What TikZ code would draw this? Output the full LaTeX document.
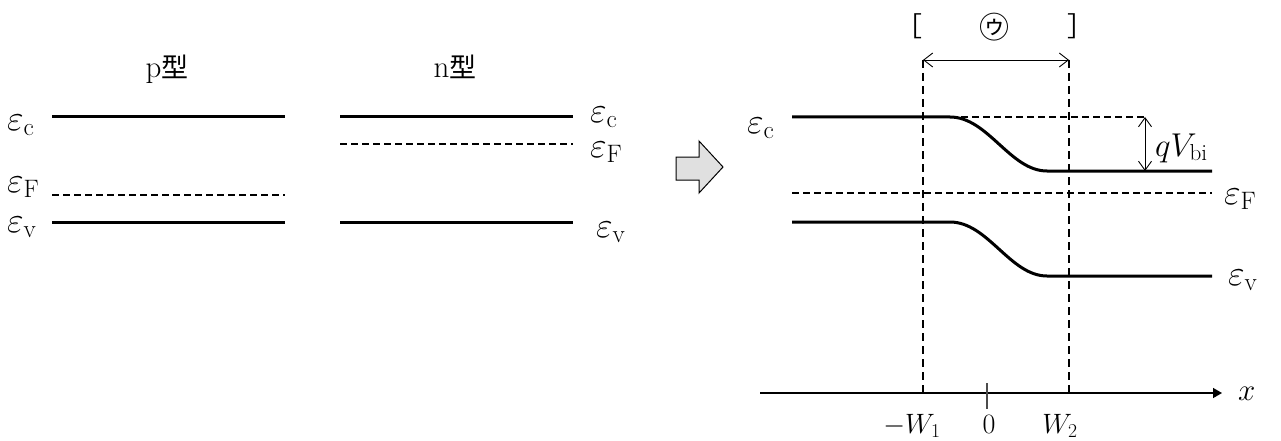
\RequirePackage{fix-cm}
\documentclass[tikz,border=0pt]{standalone}
\usepackage{fontspec}
\usetikzlibrary{arrows.meta}
\newfontfamily\cjk{Noto Sans CJK JP}
\begin{document}
\begin{tikzpicture}[x=1pt,y=-1pt,
  band/.style={line width=3pt},
  fermi/.style={line width=2.3pt,dash pattern=on 7pt off 4pt},
  guide/.style={line width=1.4pt,dash pattern=on 8pt off 5pt},
  lbl/.style={inner sep=0pt,anchor=base west,font=\fontsize{36}{40}\selectfont},
  title/.style={inner sep=0pt,anchor=base,font=\fontsize{27}{32}\selectfont},
  head/.style={inner sep=0pt,anchor=base,font=\fontsize{31}{36}\selectfont},
  barb/.style={line width=0.9pt,{Straight Barb[length=9pt,width=14pt]}-{Straight Barb[length=9pt,width=14pt]}}
]
\useasboundingbox (0,0) rectangle (1281,441);
% ---- p-type
\node[head] (ptitle) at (167,78) {p{\cjk\fontsize{27}{32}\selectfont 型}};
\coordinate (pc1) at (52,117); \coordinate (pc2) at (285,117);
\coordinate (pf1) at (52,195); \coordinate (pf2) at (285,195);
\coordinate (pv1) at (52,222); \coordinate (pv2) at (285,222);
\draw[band] (pc1) -- (pc2);
\draw[fermi] (pf1) -- (pf2);
\draw[band] (pv1) -- (pv2);
\node[lbl] (pcl) at (7,130) {$\varepsilon_{\mathrm{c}}$};
\node[lbl] (pfl) at (7,192) {$\varepsilon_{\mathrm{F}}$};
\node[lbl] (pvl) at (7,232) {$\varepsilon_{\mathrm{v}}$};
% ---- n-type
\node[head] (ntitle) at (455,78) {n{\cjk\fontsize{27}{32}\selectfont 型}};
\coordinate (nc1) at (340,117); \coordinate (nc2) at (573,117);
\coordinate (nf1) at (340,144); \coordinate (nf2) at (573,144);
\coordinate (nv1) at (340,222); \coordinate (nv2) at (573,222);
\draw[band] (nc1) -- (nc2);
\draw[fermi] (nf1) -- (nf2);
\draw[band] (nv1) -- (nv2);
\node[lbl] (ncl) at (590,122) {$\varepsilon_{\mathrm{c}}$};
\node[lbl] (nfl) at (590,157) {$\varepsilon_{\mathrm{F}}$};
\node[lbl] (nvl) at (596,237) {$\varepsilon_{\mathrm{v}}$};
% ---- block arrow
\draw[line width=1pt,fill=black!12] (676,157) -- (699,157) -- (699,141) -- (723,167) -- (699,193) -- (699,180) -- (676,180) -- cycle;
% ---- junction
\coordinate (w1t) at (923,60); \coordinate (w1b) at (923,393);
\coordinate (w2t) at (1069,60); \coordinate (w2b) at (1069,393);
\draw[guide] (w1t) -- (w1b);
\draw[guide] (w2t) -- (w2b);
\draw[barb] (w1t) -- (w2t);
\node[inner sep=0pt,font=\fontsize{27}{30}\selectfont\cjk] (lb) at (909,26) {［};
\node[inner sep=0pt,font=\fontsize{27}{30}\selectfont\cjk] (rb) at (1081,26) {］};
\node[inner sep=0pt,font=\fontsize{30}{34}\selectfont\cjk] (circ) at (994,27) {㋒};
% conduction band
\coordinate (jc0) at (792,117); \coordinate (jc1) at (950,117);
\coordinate (jc2) at (1047,171); \coordinate (jc3) at (1212,171);
\draw[band] (jc0) -- (jc1) .. controls (988,117) and (1010,171) .. (jc2) -- (jc3);
\coordinate (vb1) at (1145,117); \coordinate (vb2) at (1145,171);
\draw[line width=1.2pt,dash pattern=on 7pt off 4pt] (jc1) -- (vb1);
\draw[line width=0.9pt,{Straight Barb[length=9pt,width=13pt]}-{Straight Barb[length=9pt,width=13pt]}] (vb1) -- (vb2);
\node[lbl,font=\fontsize{33}{36}\selectfont] (qv) at (1155,156) {$qV_{\mathrm{bi}}$};
\node[lbl] (jcl) at (747,133) {$\varepsilon_{\mathrm{c}}$};
% fermi
\coordinate (jf0) at (792,193); \coordinate (jf1) at (1212,193);
\draw[fermi] (jf0) -- (jf1);
\node[lbl] (jfl) at (1224,204) {$\varepsilon_{\mathrm{F}}$};
% valence band
\coordinate (jv0) at (792,222); \coordinate (jv1) at (950,222);
\coordinate (jv2) at (1047,276); \coordinate (jv3) at (1212,276);
\draw[band] (jv0) -- (jv1) .. controls (988,222) and (1010,276) .. (jv2) -- (jv3);
\node[lbl] (jvl) at (1228,285) {$\varepsilon_{\mathrm{v}}$};
% axis
\coordinate (ax0) at (760,393); \coordinate (ax1) at (1222,393);
\draw[line width=1.4pt,-{Triangle[length=9pt,width=10pt]}] (ax0) -- (ax1);
\coordinate (t0a) at (987,383); \coordinate (t0b) at (987,409);
\draw[line width=1.4pt,black!70] (t0a) -- (t0b);
\node[lbl,font=\fontsize{31}{34}\selectfont] (xl) at (1238,400) {$x$};
\node[title,font=\fontsize{28}{32}\selectfont] (w1l) at (912,433) {$-W_1$};
\node[title,font=\fontsize{28}{32}\selectfont] (zl) at (989,433) {$0$};
\node[title,font=\fontsize{28}{32}\selectfont] (w2l) at (1060,433) {$W_2$};
\end{tikzpicture}
\end{document}
